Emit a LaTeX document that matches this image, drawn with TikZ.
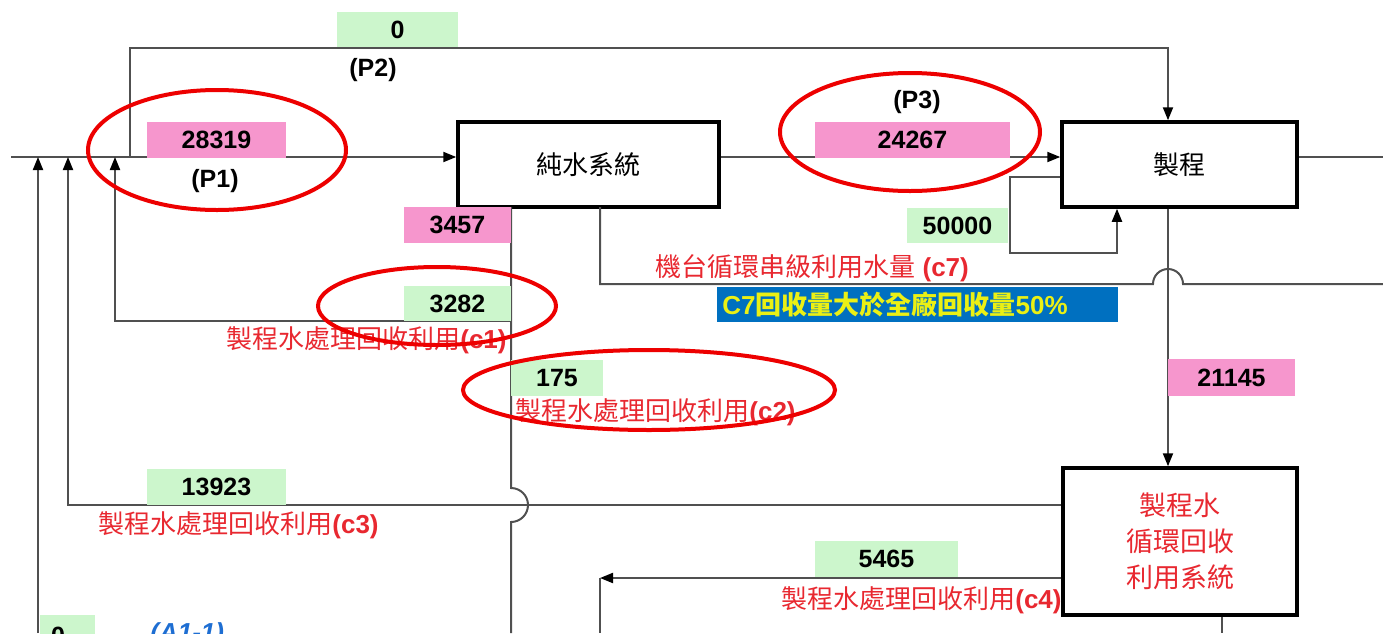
\documentclass[tikz,border=0pt]{standalone}
\usepackage{fontspec}
\setmainfont{Liberation Sans}
\newfontfamily\cjk{Noto Sans CJK TC}
\usetikzlibrary{arrows.meta,calc}
\definecolor{linegray}{RGB}{80,80,80}
\definecolor{tagpink}{RGB}{246,150,205}
\definecolor{taggreen}{RGB}{204,246,204}
\definecolor{labred}{RGB}{232,40,48}
\definecolor{ringred}{RGB}{237,0,0}
\definecolor{c7blue}{RGB}{0,112,192}
\definecolor{c7yellow}{RGB}{235,240,20}
\definecolor{aoneblue}{RGB}{30,110,210}
\tikzset{
  conn/.style={draw=linegray, line width=1pt},
  arr/.style={conn, -{Triangle[length=6.5pt,width=5pt,black]}},
  blk/.style={draw=black, line width=1.75pt, fill=white, inner sep=0pt,
              font=\cjk\fontsize{13}{15}\selectfont},
  numfont/.style={font=\bfseries\fontsize{12.5}{15}\selectfont},
  pinkbox/.style={fill=tagpink, minimum height=18pt, inner sep=0pt, numfont},
  greenbox/.style={fill=taggreen, minimum height=18pt, inner sep=0pt, numfont},
  ptag/.style={inner sep=0pt, numfont},
  redlabel/.style={text=labred, inner sep=0pt, font=\fontsize{13}{15}\selectfont},
  ringmark/.style={draw=ringred, line width=2pt}
}
\begin{document}
\begin{tikzpicture}[x=0.5pt,y=-0.5pt]
\useasboundingbox (0,0) rectangle (1383,633);
\clip (0,0) rectangle (1383,633);

% main blocks
\node[blk, minimum width=130.5pt, minimum height=42.5pt] (pw) at (588.5,164.5) {純水系統};
\node[blk, minimum width=117.5pt, minimum height=42.5pt] (pr) at (1179.5,164.5) {製程};
\node[blk, minimum width=117pt, minimum height=73.5pt, align=center, text=labred,
      font=\cjk\fontsize{13.5}{18}\selectfont] (rc) at (1180,541.5) {製程水\\循環回收\\利用系統};

% coordinates
\coordinate (in0) at (11,157);
\coordinate (outR) at (1383,157);
\coordinate (p2a) at (130,157);
\coordinate (p2b) at (130,48);
\coordinate (p2c) at (1168,48);
\coordinate (a38) at (38,633);
\coordinate (c3a) at (68,505);
\coordinate (c1a) at (115,321);
\coordinate (c1b) at (511,321);
\coordinate (v1t) at (511,207);
\coordinate (j1) at (511,488);
\coordinate (v1b) at (511,633);
\coordinate (c7a) at (600,207);
\coordinate (c7b) at (600,284);
\coordinate (j2) at (1153,284);
\coordinate (c7e) at (1383,284);
\coordinate (lp1) at (1010,177);
\coordinate (lp2) at (1010,253);
\coordinate (lp3) at (1117,253);
\coordinate (c4a) at (600,578);
\coordinate (c4b) at (600,633);
\coordinate (rb) at (1222,633);

% connectors
\draw[arr] (in0) -- (in0 -| pw.west);
\draw[arr] (pw.east |- in0) -- (pr.west |- in0);
\draw[conn] (pr.east |- in0) -- (outR);
\draw[arr] (p2a) -- (p2b) -- (p2c) -- (p2c |- pr.north);
\draw[arr] (a38) -- (a38 |- in0);
\draw[arr] (c3a -| rc.west) -- (c3a) -- (c3a |- in0);
\draw[arr] (c1b) -- (c1a) -- (c1a |- in0);
\draw[conn] (v1t) -- (j1) arc[start angle=90, end angle=-90, radius=8.5pt] -- (v1b);
\draw[conn] (c7a) -- (c7b) -- (j2) arc[start angle=180, end angle=0, radius=7.5pt] -- (c7e);
\draw[arr] (pr.south -| p2c) -- (rc.north -| p2c);
\draw[arr] (lp1 -| pr.west) -- (lp1) -- (lp2) -- (lp3) -- (lp3 |- pr.south);
\draw[arr] (c4a -| rc.west) -- (c4a);
\draw[conn] (c4a) -- (c4b);
\draw[conn] (rb |- rc.south) -- (rb);

% value tags
\node[greenbox, minimum width=60.5pt, minimum height=17.5pt] (t0) at (397.5,29.5) {0};
\node[ptag] (tp2) at (373,70) {(P2)};
\node[pinkbox, minimum width=69.5pt] (t28319) at (216.5,140) {28319};
\node[ptag] (tp1) at (215,181) {(P1)};
\node[ptag] (tp3) at (917,102) {(P3)};
\node[pinkbox, minimum width=97.5pt] (t24267) at (912.5,140) {24267};
\node[pinkbox, minimum width=53.5pt] (t3457) at (457.5,225) {3457};
\node[greenbox, minimum width=53.5pt, minimum height=17.5pt] (t3282) at (457.5,303.5) {3282};
\node[greenbox, minimum width=46pt] (t175) at (557,378) {175};
\node[greenbox, minimum width=50.5pt, minimum height=17.5pt] (t50000) at (957.5,225.5) {50000};
\node[pinkbox, minimum width=63.5pt, minimum height=18.5pt] (t21145) at (1231.5,377.5) {21145};
\node[greenbox, minimum width=69.5pt] (t13923) at (216.5,487) {13923};
\node[greenbox, minimum width=71.5pt] (t5465) at (886.5,559) {5465};
\node[greenbox, minimum width=27.5pt, minimum height=18pt, anchor=north west] (t0b) at (40,615) {};
\node[ptag, anchor=north] (t0bt) at (58,627) {0};
\node[inner sep=0pt, anchor=north west, text=aoneblue, font=\bfseries\itshape\fontsize{13}{15}\selectfont] (ta11) at (150,622) {(A1-1)};

% red labels
\node[redlabel, anchor=east] (lc1) at (507,340) {{\cjk 製程水處理回收利用}\textbf{(c1)}};
\node[redlabel, anchor=west] (lc2) at (515,412) {{\cjk 製程水處理回收利用}\textbf{(c2)}};
\node[redlabel, anchor=west] (lc3) at (98,525) {{\cjk 製程水處理回收利用}\textbf{(c3)}};
\node[redlabel, anchor=east] (lc4) at (1062,600) {{\cjk 製程水處理回收利用}\textbf{(c4)}};
\node[redlabel, anchor=west] (lc7) at (655,268) {{\cjk 機台循環串級利用水量} \textbf{(c7)}};

% blue note
\node[fill=c7blue, minimum width=200.5pt, minimum height=17.5pt, inner sep=0pt, anchor=west] (c7box) at (717,304.5) {};
\node[inner sep=0pt, anchor=west, text=c7yellow, font=\bfseries\fontsize{13}{15}\selectfont] (c7txt) at (722,304.5)
  {C7{\cjk\bfseries 回收量大於全廠回收量}50\%};

% red rings
\draw[ringmark] (217,150) ellipse [x radius=129, y radius=60];
\draw[ringmark] (910,132) ellipse [x radius=130, y radius=59];
\draw[ringmark] (437,306) ellipse [x radius=119, y radius=39];
\draw[ringmark] (649,390) ellipse [x radius=186, y radius=40];
\end{tikzpicture}
\end{document}
